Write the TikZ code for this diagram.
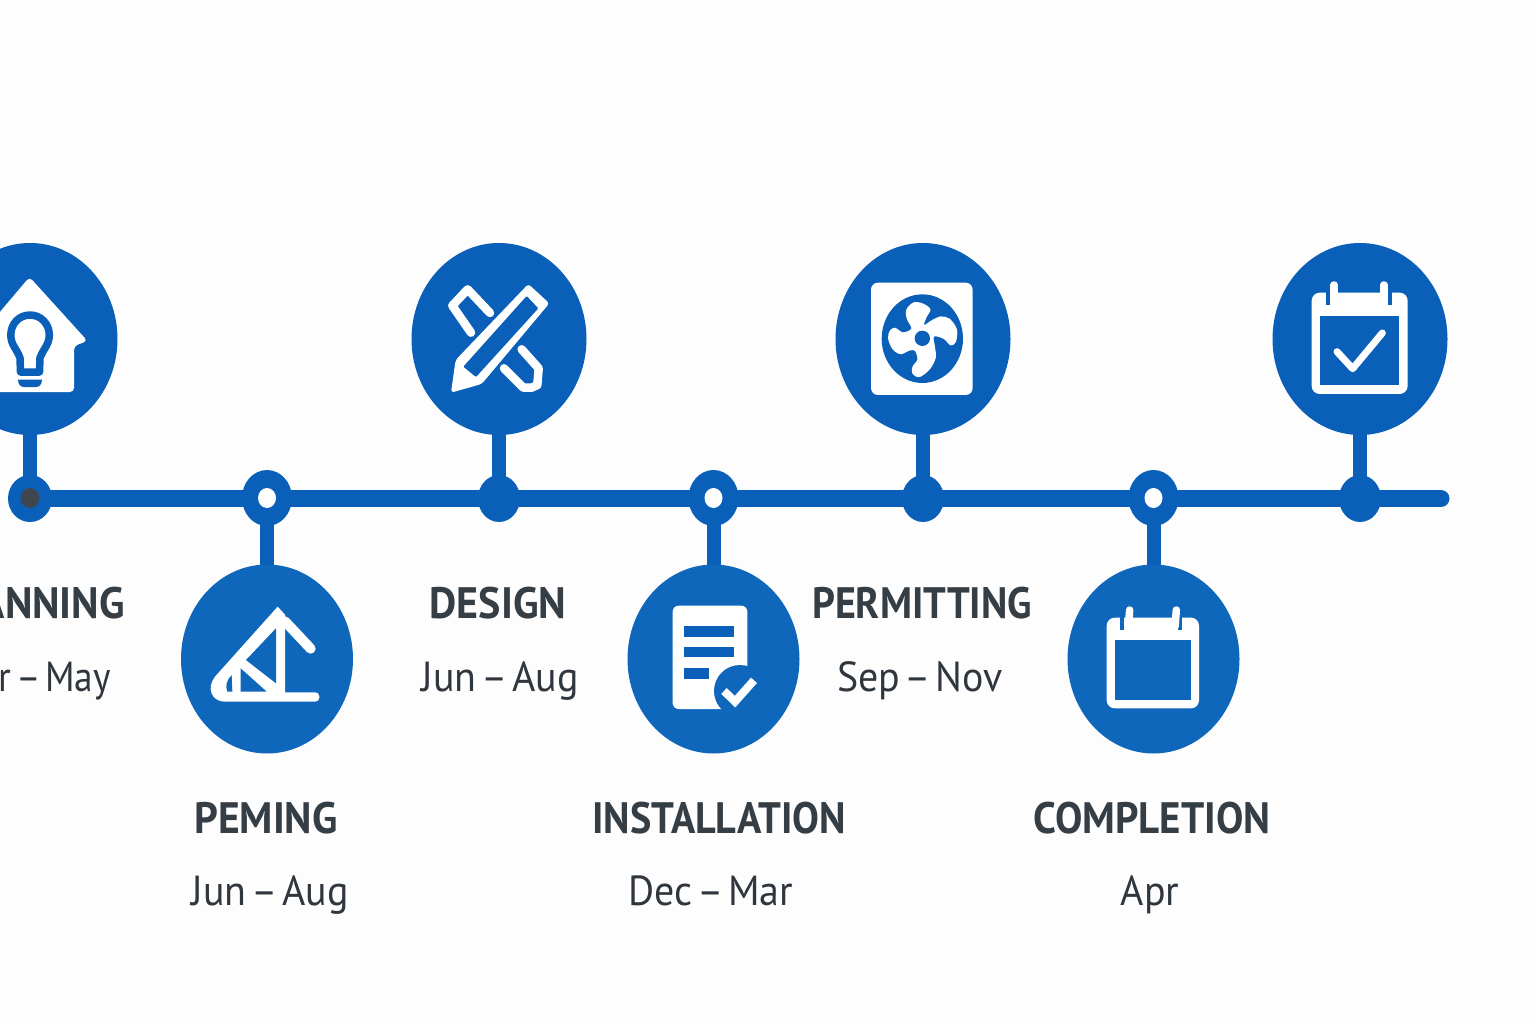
\documentclass[tikz,border=0pt]{standalone}
\usepackage{fontspec}
\setmainfont{PT Sans}
\usetikzlibrary{shapes.geometric}
\definecolor{brandblue}{HTML}{0A60B8}
\definecolor{lowblue}{HTML}{0F67BC}
\definecolor{headcol}{HTML}{353D45}
\definecolor{subcol}{HTML}{2F363D}
\definecolor{pagecol}{HTML}{FDFDFD}
\definecolor{hubcol}{HTML}{40464F}
\newcommand{\hd}[2][0.95]{\scalebox{#1}[1]{\fontsize{44}{44}\selectfont\bfseries #2}}
\newcommand{\sbl}[2][0.95]{\scalebox{#1}[1]{\fontsize{42}{42}\selectfont\spaceskip=0.12em #2}}
\tikzset{
  bubbleup/.style={ellipse,fill=brandblue,inner sep=0,outer sep=0,minimum width=175pt,minimum height=192pt},
  bubbledown/.style={ellipse,fill=lowblue,inner sep=0,outer sep=0,minimum width=172pt,minimum height=189pt},
  soliddot/.style={ellipse,fill=brandblue,inner sep=0,outer sep=0,minimum width=42pt,minimum height=47pt},
  ringdot/.style={ellipse,fill=brandblue,inner sep=0,outer sep=0,minimum width=50pt,minimum height=56pt},
  holedot/.style={ellipse,fill=white,inner sep=0,outer sep=0,minimum width=18pt,minimum height=20pt},
  axis/.style={draw=brandblue,line width=17pt},
  stem/.style={draw=brandblue,line width=14pt},
  head/.style={text=headcol,inner sep=0,anchor=base},
  sublabel/.style={text=subcol,inner sep=0,anchor=base},
  wline/.style={draw=white,line cap=round,line join=round},
}
\begin{document}
\begin{tikzpicture}[x=1pt,y=-1pt]
\useasboundingbox (0,0) rectangle (1536,1024);
\fill[pagecol] (0,0) rectangle (1536,1024);
% nodes
\node[bubbleup] (b1) at (30,339) {};
\node[bubbleup] (b3) at (499,339) {};
\node[bubbleup] (b5) at (923,339) {};
\node[bubbleup] (b7) at (1360,339) {};
\node[bubbledown] (b2) at (267,659) {};
\node[bubbledown] (b4) at (713.5,659) {};
\node[bubbledown] (b6) at (1153.5,659) {};
\node[soliddot,minimum width=44pt] (d1) at (30,498.5) {};
\node[ringdot] (d2) at (267,498) {};
\node[soliddot] (d3) at (499,498.5) {};
\node[ringdot] (d4) at (713.5,498) {};
\node[soliddot] (d5) at (923,498.5) {};
\node[ringdot] (d6) at (1153.5,498) {};
\node[soliddot] (d7) at (1360,498.5) {};
\coordinate (lineend) at (1441,498.5);
% connectors
\draw[axis] (d1.center) -- (d2.center |- d1.center);
\draw[axis] (d2.center |- d1.center) -- (d3.center);
\draw[axis] (d3.center) -- (d4.center |- d3.center);
\draw[axis] (d4.center |- d3.center) -- (d5.center);
\draw[axis] (d5.center) -- (d6.center |- d5.center);
\draw[axis] (d6.center |- d5.center) -- (d7.center);
\draw[axis,line cap=round] (d7.center) -- (lineend);
\draw[stem] (b1.center) -- (d1.center);
\draw[stem] (b3.center) -- (d3.center);
\draw[stem] (b5.center) -- (d5.center);
\draw[stem] (b7.center) -- (d7.center);
\draw[stem] (d2.center) -- (b2.north);
\draw[stem] (d4.center) -- (b4.north);
\draw[stem] (d6.center) -- (b6.north);
% dot centres
\node[ellipse,fill=hubcol,inner sep=0,minimum width=19pt,minimum height=20pt] (h1) at (30,498) {};
\node[holedot] (h2) at (267,498) {};
\node[holedot] (h4) at (713.5,498) {};
\node[holedot] (h6) at (1153.5,498) {};
% icon 1: house with bulb
\fill[white,rounded corners=4pt] (-15,392) -- (-15,345) -- (-28,345) -- (29.5,277) -- (87.5,341) -- (74,346) -- (74,392) -- cycle;
\draw[brandblue,line width=7.5pt,line join=round]
  (20.5,372) -- (20,358) .. controls (17,349) and (10.8,345) .. (10.8,335)
  .. controls (10.8,324) and (19,315) .. (30,315) .. controls (41,315) and (49.3,324) .. (49.3,335)
  .. controls (49.3,345) and (43,349) .. (40,358) -- (39.5,372) -- cycle;
\fill[brandblue] (18,379.5) -- (42,379.5) .. controls (42,385) and (39,387) .. (36,387) -- (24,387) .. controls (21,387) and (18,385) .. (18,379.5) -- cycle;
% icon 2: pencil and ruler
\begin{scope}[shift={(400,240)},scale=1/3]
\draw[wline,line width=8.5pt] (270,219) -- (203,148) -- (157,197) -- (213,278);
\draw[wline,line width=8.5pt] (365,328) -- (416,385) -- (412,435) -- (395,443) -- (370,443) -- (312,385);
\fill[white,rounded corners=3pt] (153,458) -- (167,360) -- (385,132) -- (448,190) -- (245,432) -- cycle;
\fill[brandblue,rounded corners=1pt] (190,380) -- (380,168) -- (415,205) -- (228,411) -- cycle;
\end{scope}
% icon 3: fan
\begin{scope}[shift={(825,240)},scale=1/3]
\fill[white,rounded corners=7pt] (138,128) rectangle (443,465);
\fill[brandblue] (292,296) ellipse [x radius=122,y radius=133];
\end{scope}
\begin{scope}[shift={(880,295)},scale=1/3]
\begin{scope}[shift={(127,130)},scale=1.06,shift={(-127,-130)}]
\fill[white] plot[smooth cycle,tension=0.55] coordinates {
 (96,102) (83,75) (82,48) (103,28) (130,32) (150,48) (140,68) (132,92)
 (155,78) (180,68) (205,75) (225,105) (222,140) (207,150) (188,132) (160,125)
 (163,155) (165,185) (148,218) (118,240) (98,228) (100,208) (113,190) (106,165)
 (90,165) (65,175) (42,160) (30,130) (35,108) (50,100) (72,113)};
\end{scope}
\fill[brandblue] (127,130) circle [radius=23];
\end{scope}
% icon 4: calendar with check
\begin{scope}[shift={(1265,240)},scale=1/3]
\fill[white,rounded corners=8pt] (140,158) rectangle (428,462);
\fill[brandblue] (165,228) rectangle (403,435);
\fill[brandblue] (183,150) rectangle (195,196);
\fill[brandblue] (370,150) rectangle (382,196);
\draw[wline,line width=7.5pt] (207,135) -- (207,190);
\draw[wline,line width=7.5pt] (357,135) -- (357,190);
\draw[wline,line width=7pt] (216,335) -- (263,386) -- (352,279);
\end{scope}
% icon 5: set square
\begin{scope}[shift={(170,560)},scale=1/3]
\fill[white] (323,140) -- (345,164) -- (345,425) -- (165,425)
  .. controls (125,425) and (108,385) .. (135,350) -- cycle;
\fill[white,rounded corners=4pt] (335,397) -- (448,397) -- (448,425) -- (335,425) -- cycle;
\draw[wline,line width=10pt] (345,184) -- (422,266);
\fill[lowblue] (318,205) -- (228,300) -- (318,370) -- cycle;
\fill[lowblue] (212,325) -- (290,395) -- (212,395) -- cycle;
\fill[lowblue] (185,345) .. controls (170,360) and (165,378) .. (172,395) -- (187,395) -- cycle;
\end{scope}
% icon 6: document with check
\begin{scope}[shift={(620,560)},scale=1/3]
\fill[white,rounded corners=6pt] (158,137) rectangle (382,447);
\fill[brandblue] (193,197) rectangle (343,230);
\fill[brandblue] (193,261) rectangle (343,292);
\fill[brandblue] (193,325) rectangle (267,356);
\fill[lowblue] (360,393) circle [radius=78];
\draw[draw=white,line width=8pt] (312,393) -- (345,425) -- (402,361);
\end{scope}
% icon 7: calendar
\begin{scope}[shift={(1060,560)},scale=1/3]
\fill[white,rounded corners=8pt] (140,173) rectangle (417,445);
\fill[lowblue] (165,240) rectangle (392,420);
\fill[lowblue] (181,165) rectangle (193,210);
\fill[lowblue] (354,165) rectangle (366,210);
\draw[wline,line width=7.5pt] (205,200) -- (209,150);
\draw[wline,line width=7.5pt] (345,200) -- (349,150);
\end{scope}
% labels
\node[head,anchor=base east] (t1) at (125,618) {\hd{PLANNING}};
\node[sublabel,anchor=base east] (s1) at (111,691) {\sbl[0.89]{Apr – May}};
\node[head] (t3) at (498,618) {\hd[0.955]{DESIGN}};
\node[sublabel] (s3) at (500,691) {\sbl{Jun – Aug}};
\node[head] (t5) at (922,618) {\hd[0.91]{PERMITTING}};
\node[sublabel] (s5) at (920,691) {\sbl{Sep – Nov}};
\node[head] (t2) at (266,833) {\hd[0.945]{PEMING}};
\node[sublabel] (s2) at (270,905) {\sbl{Jun – Aug}};
\node[head] (t4) at (719,833) {\hd[0.913]{INSTALLATION}};
\node[sublabel] (s4) at (711,905) {\sbl{Dec – Mar}};
\node[head] (t6) at (1152,833) {\hd[0.93]{COMPLETION}};
\node[sublabel] (s6) at (1150,905) {\sbl{Apr}};
\end{tikzpicture}
\end{document}
